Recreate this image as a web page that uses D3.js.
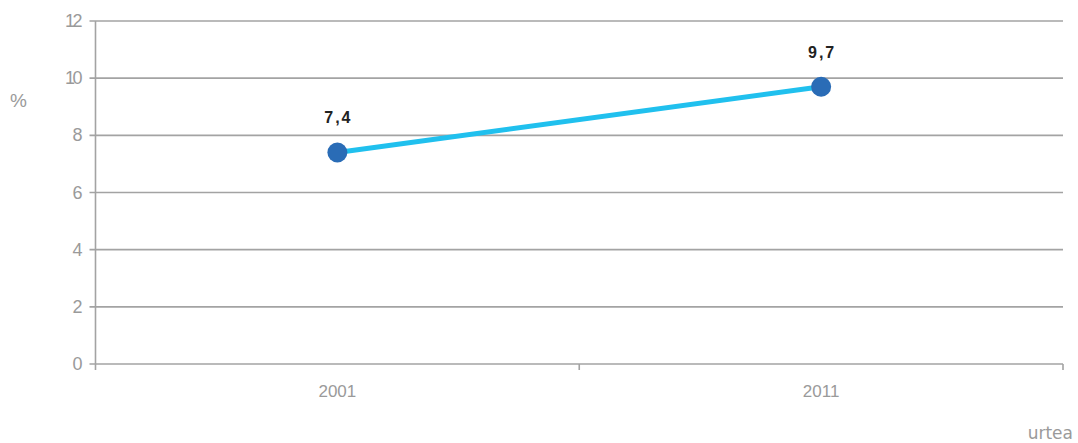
<!DOCTYPE html>
<html><head><meta charset="utf-8">
<script src="https://cdn.jsdelivr.net/npm/d3@7"></script>
<style>body{margin:0;background:#fff}svg{display:block}</style>
</head><body>
<svg id="c" width="1078" height="443"></svg>
<script>
const categories = ["2001", "2011"];
const values = [7.4, 9.7];
const valueLabels = ["7,4", "9,7"];
const yTicks = [0, 2, 4, 6, 8, 10, 12];

(function () {
const svg = d3.select("#c");
const mLeft = 95.5, mRight = 1063, mTop = 21, mBottom = 364;
const x = d3.scaleBand().domain(categories).range([mLeft, mRight]);
const y = d3.scaleLinear().domain([0, 12]).range([mBottom, mTop]);
const grey = "#a3a3a3";
const textGrey = "#9a9a9a";

svg.append("g").selectAll("line").data(yTicks).join("line")
  .attr("x1", mLeft - 6).attr("x2", mRight)
  .attr("y1", d => y(d)).attr("y2", d => y(d))
  .attr("stroke", grey).attr("stroke-width", 1.6);

svg.append("line").attr("x1", mLeft).attr("x2", mLeft).attr("y1", mTop).attr("y2", mBottom + 6)
  .attr("stroke", grey).attr("stroke-width", 1.6);

const edges = categories.map(c => x(c)).concat([mRight]);
svg.append("g").selectAll("line").data(edges.slice(1)).join("line")
  .attr("x1", d => d).attr("x2", d => d).attr("y1", mBottom).attr("y2", mBottom + 6)
  .attr("stroke", grey).attr("stroke-width", 1.6);

svg.append("g").selectAll("text").data(yTicks).join("text")
  .attr("x", 80).attr("y", d => y(d) + 6)
  .attr("text-anchor", "end")
  .attr("font-family", "Liberation Sans, Arial, sans-serif")
  .attr("font-size", 18).attr("letter-spacing", -2.5).attr("fill", textGrey)
  .text(d => d);

svg.append("g").selectAll("text").data(categories).join("text")
  .attr("x", d => x(d) + x.bandwidth() / 2).attr("y", 397)
  .attr("text-anchor", "middle")
  .attr("font-family", "Liberation Sans, Arial, sans-serif")
  .attr("font-size", 17).attr("fill", textGrey)
  .text(d => d);

svg.append("text").attr("x", 10).attr("y", 107)
  .attr("font-family", "Liberation Sans, Arial, sans-serif")
  .attr("font-size", 19).attr("fill", textGrey).text("%");
svg.append("text").attr("x", 1073).attr("y", 439).attr("text-anchor", "end")
  .attr("font-family", "DejaVu Sans, Verdana, sans-serif")
  .attr("font-size", 17).attr("fill", textGrey).text("urtea");

const data = categories.map((c, i) => ({c, v: values[i], l: valueLabels[i]}));
svg.append("path").datum(data)
  .attr("d", d3.line().x(d => x(d.c) + x.bandwidth() / 2).y(d => y(d.v)))
  .attr("fill", "none").attr("stroke", "#20c0ee").attr("stroke-width", 5);

svg.append("g").selectAll("circle").data(data).join("circle")
  .attr("cx", d => x(d.c) + x.bandwidth() / 2).attr("cy", d => y(d.v))
  .attr("r", 10).attr("fill", "#2a6cb6");

svg.append("g").selectAll("text").data(data).join("text")
  .attr("x", d => x(d.c) + x.bandwidth() / 2 + 1).attr("y", d => y(d.v) - 29)
  .attr("text-anchor", "middle")
  .attr("font-family", "Liberation Sans, Arial, sans-serif")
  .attr("font-weight", "bold").attr("font-size", 16).attr("letter-spacing", 2)
  .attr("fill", "#222").text(d => d.l);
})();
</script>
</body></html>
